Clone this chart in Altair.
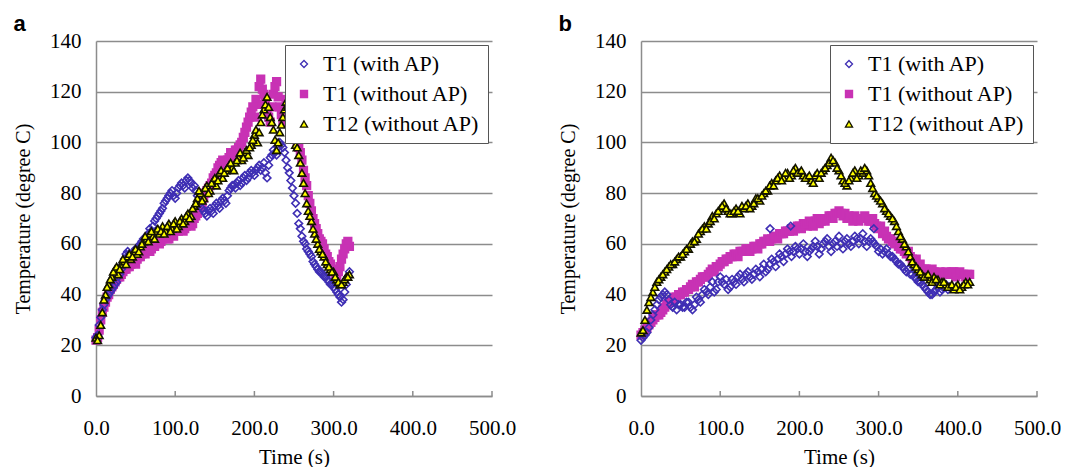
import altair as alt
import pandas as pd

SERIES = ["T1 (with AP)", "T1 (without AP)", "T12 (without AP)"]
SHAPES = ["diamond", "square", "triangle-up"]
FILLS = ["transparent", "#C832B4", "#FFFF00"]
STROKES = ["#3F2FB4", "#C832B4", "#141400"]
GRID = "#8C8C8C"
SERIF = "'Liberation Serif', 'Times New Roman', 'DejaVu Serif', serif"

x_ticks = [0, 100, 200, 300, 400, 500]
y_ticks = [0, 20, 40, 60, 80, 100, 120, 140]

# ---------------- panel a ----------------
a_time = [0, 4, 8, 12, 16, 20, 24, 28, 32, 36, 40, 44, 48, 52, 56, 60, 64, 68, 72, 76,
          80, 84, 88, 92, 96, 100, 104, 108, 112, 116, 120, 124, 128, 132, 136, 140, 144, 148, 152, 156,
          160, 164, 168, 172, 176, 180, 184, 188, 192, 196, 200, 204, 208, 212, 216, 220, 224, 228, 232, 236,
          240, 244, 248, 252, 256, 260, 264, 268, 272, 276, 280, 284, 288, 292, 296, 300, 304, 308, 312, 316, 320]
a_time2 = [2, 6, 10, 14, 18, 22, 26, 30, 34, 38, 42, 46, 50, 54, 58, 62, 66, 70, 74, 78,
           82, 86, 90, 94, 98, 102, 106, 110, 114, 118, 122, 126, 130, 134, 138, 142, 146, 150, 154, 158,
           162, 166, 170, 174, 178, 182, 186, 190, 194, 198, 202, 206, 210, 214, 218, 222, 226, 230, 234, 238,
           242, 246, 250, 254, 258, 262, 266, 270, 274, 278, 282, 286, 290, 294, 298, 302, 306, 310, 314, 318]

a_t1_ap = [23, 28, 34, 38, 40, 42, 44, 47, 50, 54, 57, 55, 57, 58, 60, 62, 63, 66, 67, 70,
           72, 74, 77, 79, 81, 78, 82, 84, 82, 86, 84, 83, 79, 76, 73, 71, 74, 72, 76, 74,
           78, 76, 81, 83, 82, 85, 84, 87, 86, 89, 87, 90, 89, 92, 86, 94, 97, 95, 100, 98,
           93, 88, 82, 76, 68, 63, 60, 57, 55, 52, 50, 49, 47, 46, 44, 43, 41, 39, 38, 44, 49]
a_t1_ap_2 = [24, 31, 36, 39, 41, 43, 45, 48, 52, 56, 56, 56, 58, 59, 61, 62, 64, 65, 69, 71,
             73, 76, 78, 80, 79, 80, 83, 83, 85, 85, 82, 81, 77, 74, 72, 73, 73, 75, 75, 77,
             77, 79, 82, 83, 84, 83, 86, 85, 88, 88, 89, 91, 90, 88, 91, 95, 96, 98, 99, 96,
             90, 85, 79, 72, 66, 61, 58, 56, 53, 51, 49, 48, 47, 45, 44, 42, 40, 37, 41, 47]

a_t1_noap = [22, 26, 33, 37, 40, 43, 45, 47, 48, 50, 51, 52, 53, 54, 55, 57, 58, 57, 60, 61,
             60, 62, 63, 62, 64, 66, 65, 67, 66, 68, 67, 70, 72, 75, 78, 81, 83, 86, 88, 91,
             93, 92, 94, 95, 97, 98, 100, 104, 108, 112, 110, 115, 125, 119, 112, 108, 119, 124, 114, 108,
             117, 110, 104, 102, 98, 93, 86, 79, 73, 68, 64, 61, 58, 55, 52, 49, 47, 51, 56, 60, 59]
a_t1_noap_2 = [23, 30, 35, 39, 42, 44, 46, 47, 49, 50, 51, 53, 52, 55, 56, 56, 59, 58, 59, 62,
               61, 63, 62, 64, 63, 65, 66, 65, 67, 69, 68, 71, 74, 76, 80, 82, 84, 87, 90, 92,
               91, 93, 96, 94, 97, 99, 102, 106, 110, 114, 117, 122, 121, 116, 110, 114, 122, 118, 111, 113,
               115, 107, 103, 100, 96, 89, 83, 76, 70, 66, 62, 60, 56, 53, 50, 48, 49, 54, 58, 61]

a_t12_noap = [23, 24, 33, 40, 44, 47, 50, 48, 52, 53, 55, 54, 57, 56, 59, 61, 62, 64, 63, 65,
              64, 67, 65, 68, 66, 69, 67, 70, 69, 72, 71, 75, 78, 80, 78, 83, 81, 85, 83, 88,
              86, 89, 91, 90, 92, 94, 93, 96, 95, 99, 103, 100, 108, 113, 118, 110, 105, 97, 104, 110,
              116, 111, 105, 99, 95, 88, 80, 73, 69, 64, 60, 57, 55, 52, 50, 49, 46, 44, 45, 47, 48]
a_t12_noap_2 = [22, 28, 38, 43, 46, 49, 51, 50, 54, 52, 56, 55, 58, 57, 60, 63, 61, 65, 62, 66,
                65, 64, 67, 65, 68, 66, 69, 68, 71, 70, 74, 76, 81, 77, 82, 80, 84, 86, 85, 89,
                88, 90, 92, 89, 93, 96, 94, 97, 98, 101, 105, 104, 111, 115, 114, 108, 101, 100, 107, 113,
                114, 108, 102, 98, 92, 84, 76, 71, 66, 62, 58, 56, 53, 51, 49, 47, 45, 44, 46, 47]

# ---------------- panel b ----------------
b_time = [0, 5, 10, 15, 20, 25, 30, 35, 40, 45, 50, 55, 60, 65, 70, 75, 80, 85, 90, 95,
          100, 105, 110, 115, 120, 125, 130, 135, 140, 145, 150, 155, 160, 165, 170, 175, 180, 185, 190, 195,
          200, 205, 210, 215, 220, 225, 230, 235, 240, 245, 250, 255, 260, 265, 270, 275, 280, 285, 290, 295,
          300, 305, 310, 315, 320, 325, 330, 335, 340, 345, 350, 355, 360, 365, 370, 375, 380, 385, 390, 395,
          400, 405, 410, 415]
b_time2 = [2.5, 7.5, 12.5, 17.5, 22.5, 27.5, 32.5, 37.5, 42.5, 47.5,
           52.5, 57.5, 62.5, 67.5, 72.5, 77.5, 82.5, 87.5, 92.5, 97.5,
           102.5, 107.5, 112.5, 117.5, 122.5, 127.5, 132.5, 137.5, 142.5, 147.5,
           152.5, 157.5, 162.5, 167.5, 172.5, 177.5, 182.5, 187.5, 192.5, 197.5,
           202.5, 207.5, 212.5, 217.5, 222.5, 227.5, 232.5, 237.5, 242.5, 247.5,
           252.5, 257.5, 262.5, 267.5, 272.5, 277.5, 282.5, 287.5, 292.5, 297.5,
           302.5, 307.5, 312.5, 317.5, 322.5, 327.5, 332.5, 337.5, 342.5, 347.5,
           352.5, 357.5, 362.5, 367.5, 372.5, 377.5, 382.5, 387.5, 392.5, 397.5,
           402.5, 407.5, 412.5]

b_t1_ap = [22, 24, 27, 32, 36, 39, 41, 38, 35, 34, 36, 35, 37, 34, 39, 37, 42, 40, 45, 42,
           47, 44, 42, 46, 44, 48, 45, 49, 46, 50, 47, 52, 50, 54, 51, 56, 53, 58, 55, 59,
           56, 60, 55, 58, 61, 56, 60, 62, 57, 61, 63, 58, 62, 59, 63, 60, 64, 59, 62, 60,
           57, 56, 58, 55, 54, 52, 51, 49, 48, 47, 45, 44, 42, 40, 41, 43, 42, 44, 43]
b_t1_ap_2 = [23, 25, 30, 34, 38, 40, 40, 36, 37, 36, 35, 37, 35, 36, 38, 40, 41, 43, 41, 45,
             45, 46, 43, 45, 47, 46, 48, 47, 48, 49, 50, 49, 52, 53, 54, 55, 56, 57, 57, 58,
             58, 57, 57, 59, 59, 58, 61, 59, 60, 59, 60, 61, 60, 61, 62, 62, 61, 61, 61, 59,
             58, 57, 56, 55, 53, 52, 50, 50, 48, 46, 45, 43, 41, 40, 42, 41, 43, 42]
b_t1_ap_extra_time = [163, 189, 294]
b_t1_ap_extra_temp = [66, 67, 66]

b_t1_noap = [24, 26, 28, 30, 32, 33, 35, 37, 38, 39, 40, 41, 42, 44, 45, 46, 47, 48, 50, 51,
             52, 53, 54, 55, 56, 57, 57, 58, 58, 59, 60, 61, 62, 62, 63, 64, 64, 65, 66, 66,
             67, 68, 67, 68, 69, 68, 70, 70, 71, 72, 73, 71, 70, 70, 71, 69, 70, 70, 69, 68,
             66, 64, 63, 62, 60, 59, 58, 56, 55, 53, 51, 50, 50, 49, 49, 48, 48, 49, 48, 49,
             48, 48, 47, 48]
b_t1_noap_2 = [25, 27, 29, 31, 32, 34, 36, 37, 39, 40, 41, 42, 43, 43, 45, 47, 47, 49, 49, 51,
               53, 54, 55, 56, 55, 57, 58, 57, 59, 58, 60, 61, 61, 63, 62, 64, 65, 65, 65, 67,
               66, 68, 69, 67, 70, 69, 69, 71, 70, 72, 72, 72, 71, 69, 70, 70, 71, 69, 70, 67,
               67, 65, 62, 61, 61, 58, 57, 57, 54, 54, 52, 50, 49, 50, 48, 49, 48, 48, 49, 47,
               49, 48, 48]

b_t12_noap = [25, 30, 37, 41, 45, 47, 49, 51, 52, 54, 55, 57, 58, 61, 62, 65, 67, 68, 71, 72,
              74, 76, 73, 72, 74, 72, 74, 76, 75, 78, 77, 80, 81, 84, 85, 87, 86, 88, 87, 90,
              88, 87, 86, 85, 87, 86, 89, 91, 94, 92, 89, 85, 83, 86, 89, 87, 88, 89, 84, 80,
              78, 76, 73, 71, 69, 65, 62, 59, 55, 52, 50, 48, 47, 46, 47, 46, 45, 44, 43, 42,
              44, 43, 45, 45]
b_t12_noap_2 = [26, 34, 39, 43, 46, 48, 50, 52, 53, 55, 56, 58, 60, 61, 64, 66, 66, 69, 70, 73,
                75, 74, 72, 73, 73, 75, 75, 74, 76, 78, 79, 81, 83, 83, 86, 85, 88, 86, 89, 88,
                89, 86, 87, 84, 88, 88, 90, 92, 93, 90, 87, 84, 85, 88, 86, 89, 90, 87, 82, 79,
                77, 74, 72, 70, 67, 63, 60, 57, 53, 51, 49, 47, 48, 45, 46, 44, 45, 43, 44, 43,
                42, 44, 44]


def build(parts):
    rows = []
    for rank, (name, times, temps) in enumerate(parts):
        for t, v in zip(times, temps):
            rows.append({"time": t, "temp": v, "series": name, "ord": rank})
    return pd.DataFrame(rows)


df_a = build([
    (SERIES[1], a_time, a_t1_noap),
    (SERIES[1], a_time2, a_t1_noap_2),
    (SERIES[0], a_time, a_t1_ap),
    (SERIES[0], a_time2, a_t1_ap_2),
    (SERIES[2], a_time, a_t12_noap),
    (SERIES[2], a_time2, a_t12_noap_2),
])
df_b = build([
    (SERIES[1], b_time, b_t1_noap),
    (SERIES[1], b_time2, b_t1_noap_2),
    (SERIES[0], b_time, b_t1_ap),
    (SERIES[0], b_time2, b_t1_ap_2),
    (SERIES[0], b_t1_ap_extra_time, b_t1_ap_extra_temp),
    (SERIES[2], b_time, b_t12_noap),
    (SERIES[2], b_time2, b_t12_noap_2),
])

W, H = 396, 355


def x_axis():
    return alt.Axis(values=x_ticks, format=".1f", title="Time (s)", grid=False,
                    ticks=False, tickSize=0, labelPadding=21, titlePadding=8,
                    labelFlush=False, labelOverlap=False, labelFont=SERIF, titleFont=SERIF,
                    labelFontSize=21, titleFontSize=21)


def panel(df, letter):
    leg = alt.Legend(title=None, labelFont=SERIF, labelFontSize=22, labelColor="black")
    pts = alt.Chart(df).mark_point(filled=True, size=58, strokeWidth=1.6, opacity=1).encode(
        x=alt.X("time:Q", scale=alt.Scale(domain=[0, 500], nice=False, zero=True), axis=x_axis()),
        y=alt.Y("temp:Q",
                scale=alt.Scale(domain=[0, 140], nice=False),
                axis=alt.Axis(values=y_ticks, title="Temperature (degree C)", grid=True,
                              ticks=False, tickSize=0, labelPadding=15, titlePadding=16,
                              labelFont=SERIF, titleFont=SERIF, labelFontSize=21, titleFontSize=20)),
        shape=alt.Shape("series:N", scale=alt.Scale(domain=SERIES, range=SHAPES), legend=leg),
        fill=alt.Fill("series:N", scale=alt.Scale(domain=SERIES, range=FILLS), legend=leg),
        stroke=alt.Stroke("series:N", scale=alt.Scale(domain=SERIES, range=STROKES), legend=leg),
        order=alt.Order("ord:Q"),
    )
    tick_df = pd.DataFrame({"time": x_ticks[1:]})
    ticks = alt.Chart(tick_df).mark_rule(color=GRID, strokeWidth=1.5).encode(
        x=alt.X("time:Q", scale=alt.Scale(domain=[0, 500], nice=False, zero=True), axis=x_axis()),
        y=alt.value(H - 5),
        y2=alt.value(H),
    )
    return alt.layer(pts, ticks).properties(
        width=W, height=H,
        title=alt.TitleParams(letter, anchor="start", font="Liberation Sans", fontSize=22,
                              fontWeight="bold", color="black", offset=-6),
    )


chart = alt.hconcat(panel(df_a, "a"), panel(df_b, "b"), spacing=42).resolve_scale(
    shape="independent", fill="independent", stroke="independent"
).resolve_legend(shape="independent", fill="independent", stroke="independent").properties(
    padding={"left": 5, "top": 5, "right": 0, "bottom": 0}
).configure_view(
    stroke=None
).configure_axis(
    labelFont=SERIF, labelFontSize=21, labelColor="black",
    titleFont=SERIF, titleFontSize=21, titleFontWeight="normal", titleColor="black",
    domainColor=GRID, domainWidth=1.5, gridColor=GRID, gridWidth=1.5,
).configure_legend(
    orient="top-right", offset=4, padding=8, fillColor="white", strokeColor="#555555",
    strokeWidth=1, labelFont=SERIF, labelFontSize=22, labelColor="black",
    labelLimit=300, symbolSize=50, symbolStrokeWidth=1.3, rowPadding=8, labelOffset=8,
)

chart.save("out.html", embed_options={"renderer": "svg", "actions": False})
